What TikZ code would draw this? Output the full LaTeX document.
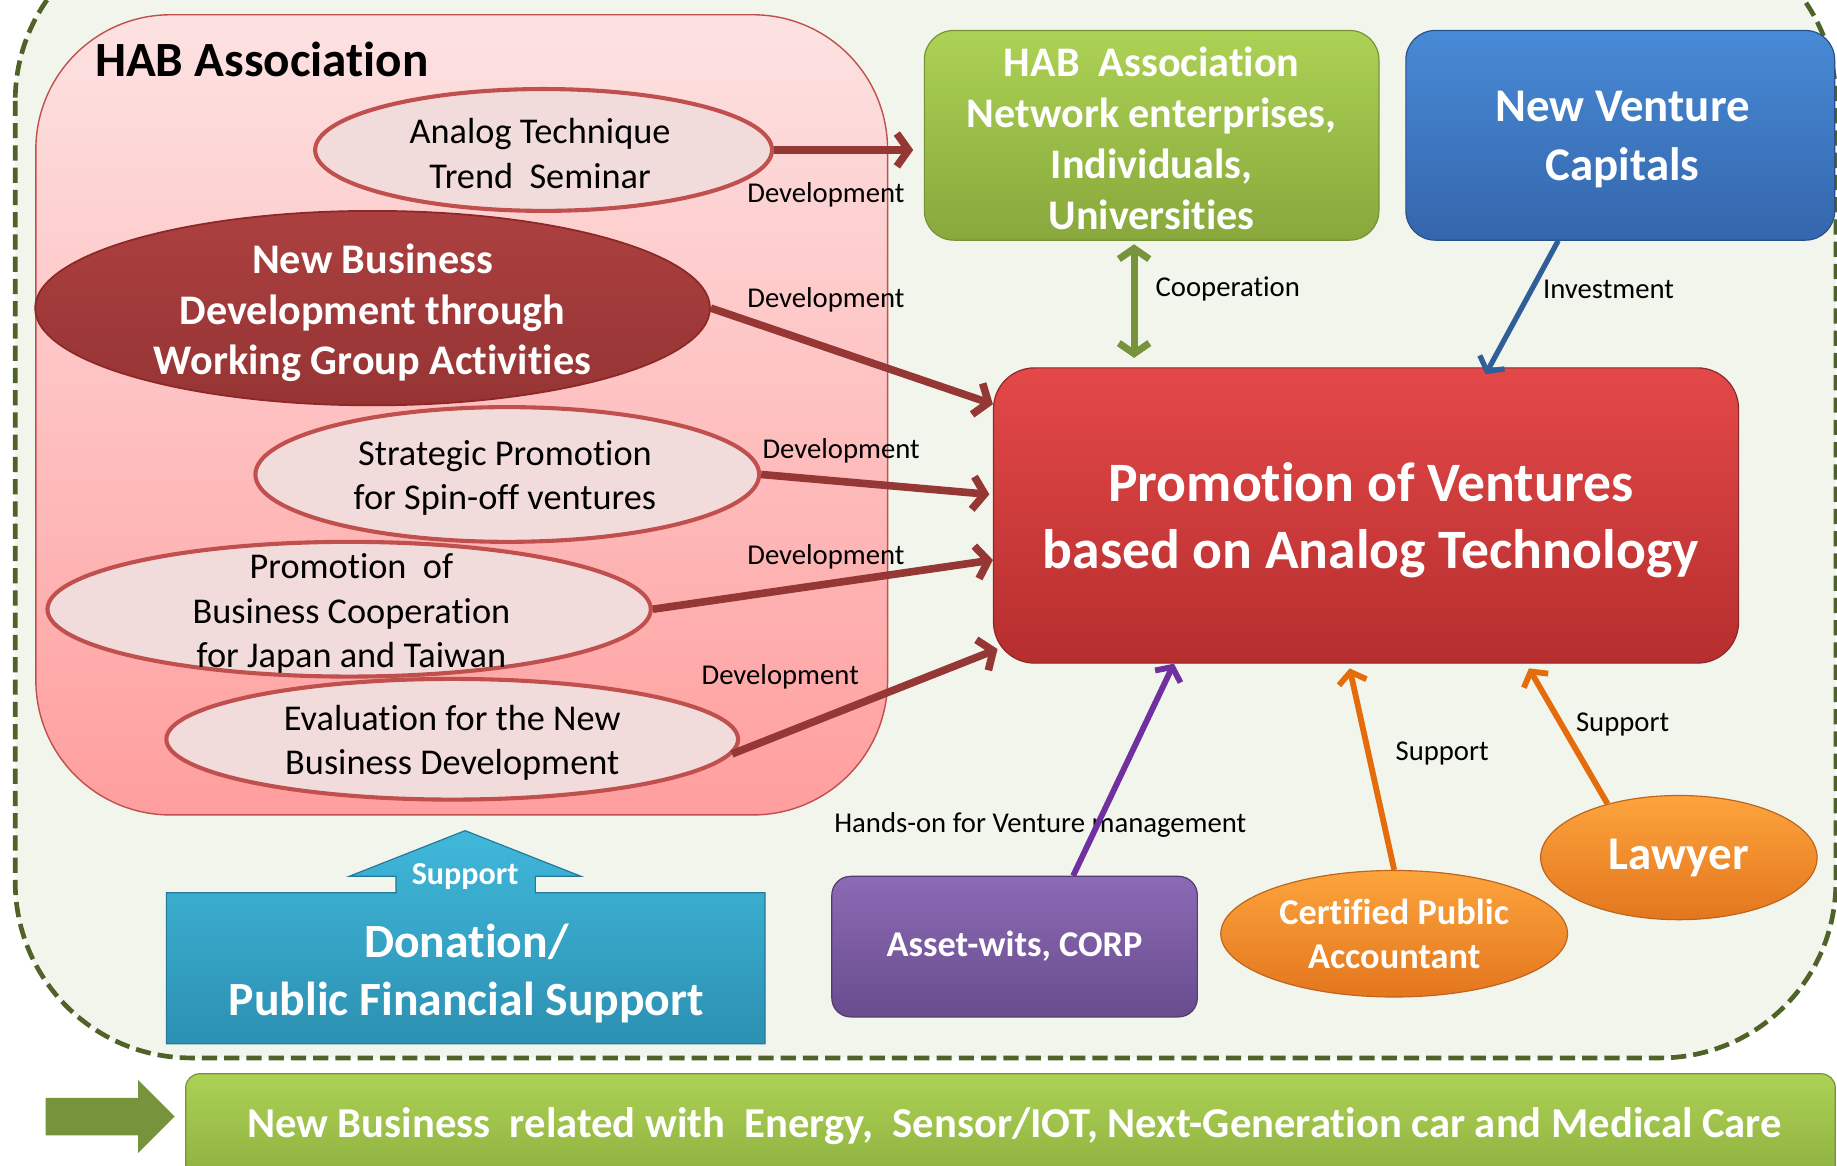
\documentclass[tikz,border=0pt]{standalone}
\usepackage{fontspec}
\setmainfont{Carlito}[Ligatures=NoCommon]
\usetikzlibrary{shapes.geometric,arrows.meta,calc}
\definecolor{bgc}{RGB}{242,245,236}
\definecolor{dashc}{RGB}{79,98,40}
\definecolor{habtop}{RGB}{253,226,226}
\definecolor{habbot}{RGB}{255,158,158}
\definecolor{habb}{RGB}{192,80,77}
\definecolor{lellf}{RGB}{242,220,219}
\definecolor{dellt}{RGB}{172,64,64}
\definecolor{dellb}{RGB}{150,52,52}
\definecolor{devc}{RGB}{149,55,53}
\definecolor{grt}{RGB}{172,210,84}
\definecolor{grb}{RGB}{136,168,60}
\definecolor{grd}{RGB}{118,146,54}
\definecolor{blt}{RGB}{72,138,214}
\definecolor{blb}{RGB}{52,102,172}
\definecolor{bld}{RGB}{40,80,140}
\definecolor{rdt}{RGB}{228,72,72}
\definecolor{rdb}{RGB}{182,46,46}
\definecolor{rdd}{RGB}{140,40,40}
\definecolor{put}{RGB}{140,106,180}
\definecolor{pub}{RGB}{104,76,142}
\definecolor{pud}{RGB}{80,60,112}
\definecolor{ort}{RGB}{252,164,60}
\definecolor{orb}{RGB}{228,118,30}
\definecolor{ord}{RGB}{190,100,30}
\definecolor{cyt}{RGB}{64,184,218}
\definecolor{cyb}{RGB}{44,144,178}
\definecolor{cyd}{RGB}{36,120,152}
\definecolor{olive}{RGB}{119,147,60}
\definecolor{invc}{RGB}{47,94,152}
\definecolor{purc}{RGB}{112,48,160}
\definecolor{orc}{RGB}{228,108,10}
\begin{document}
\begin{tikzpicture}[x=1pt,y=-1pt,
  lbl/.style={font=\fontsize{24.5}{29}\selectfont, inner sep=0pt, text=black},
  lell/.style={ellipse, draw=habb, line width=3.5pt, fill=lellf, inner sep=0pt},
  etxt/.style={align=center, inner sep=0pt, font=\fontsize{31}{38}\selectfont, text=black},
  wtxt/.style={align=center, text=white, font=\bfseries\fontsize{36}{43.5}\selectfont, inner sep=0pt},
  greenbox/.style={rectangle, rounded corners=25, top color=grt, bottom color=grb, draw=grd, line width=1pt},
  dev/.style={draw=devc, line width=6.5pt, -{Straight Barb[length=10pt,width=28pt]}},
  tip/.style={-{Straight Barb[length=9pt,width=24pt]}},
]
\useasboundingbox (0,0) rectangle (1568,995);
\fill[white] (0,0) rectangle (1568,995);
\begin{scope}
\clip (0,0) rectangle (1568,995);
% outer dashed area
\draw[fill=bgc, draw=dashc, line width=4pt, dash pattern=on 13pt off 6pt, rounded corners=150]
  (13,-64) rectangle (1567,903);
% HAB association box
\node[rectangle, rounded corners=115, top color=habtop, bottom color=habbot, draw=habb, line width=1.2pt,
  minimum width=727, minimum height=683, anchor=north west, inner sep=0pt] (hab) at (30,12) {};
\node[font=\bfseries\fontsize{42}{50}\selectfont, anchor=west, inner sep=0pt] (habtitle) at (81,51) {HAB Association};
% ellipses
\node[lell, minimum width=390, minimum height=104] (e1) at (464,128) {};
\node[etxt] (e1t) at (461,131) {Analog Technique\\ Trend\ \ Seminar};
\node[ellipse, top color=dellt, bottom color=dellb, draw=rdd, line width=1.5pt, inner sep=0pt,
  minimum width=576, minimum height=166] (e2) at (318,263) {};
\node[wtxt] (e2t) at (318,267) {New Business\\ Development through\\ Working Group Activities};
\node[lell, minimum width=430, minimum height=115] (e3) at (433,405) {};
\node[etxt] (e3t) at (431,408) {Strategic Promotion\\ for Spin-off ventures};
\node[lell, minimum width=515, minimum height=115] (e4) at (298,520) {};
\node[lell, minimum width=488, minimum height=103] (e5) at (386,631) {};
\node[etxt] (e4t) at (300,524) {Promotion\ \ of\\ Business Cooperation\\ for Japan and Taiwan};
\node[etxt] (e5t) at (386,634) {Evaluation for the New\\ Business Development};
% right boxes
\node[greenbox, minimum width=388, minimum height=179, inner sep=0pt] (green) at (983,115.5) {};
\node[wtxt] (greent) at (983,118) {HAB\ \ Association\\ Network enterprises,\\ Individuals,\\ Universities};
\node[rectangle, rounded corners=25, top color=blt, bottom color=blb, draw=bld, line width=1pt,
  minimum width=366, minimum height=179, inner sep=0pt] (blue) at (1383,115.5) {};
\node[wtxt, font=\bfseries\fontsize{40}{50}\selectfont] (bluet) at (1385,119) {New Venture\\ Capitals};
\node[rectangle, rounded corners=35, top color=rdt, bottom color=rdb, draw=rdd, line width=1pt,
  minimum width=636, minimum height=252, inner sep=0pt] (red) at (1166,440) {};
\node[wtxt, font=\bfseries\fontsize{47.5}{57}\selectfont] (redt) at (1170,444) {Promotion of Ventures\\ based on Analog Technology};
\node[rectangle, rounded corners=16, top color=put, bottom color=pub, draw=pud, line width=1pt,
  minimum width=312, minimum height=120, inner sep=0pt, text=white,
  font=\bfseries\fontsize{31}{38}\selectfont] (purple) at (866,808) {Asset-wits, CORP};
\node[ellipse, top color=ort, bottom color=orb, draw=ord, line width=1pt, minimum width=296,
  minimum height=108, inner sep=0pt, align=center, text=white,
  font=\bfseries\fontsize{31}{38}\selectfont] (cpa) at (1190,797) {Certified Public\\ Accountant};
\node[ellipse, top color=ort, bottom color=orb, draw=ord, line width=1pt, minimum width=236,
  minimum height=106, inner sep=0pt, text=white,
  font=\bfseries\fontsize{40}{48}\selectfont] (lawyer) at (1433,732) {Lawyer};
% donation box with up arrow
\draw[top color=cyt, bottom color=cyb, draw=cyd, line width=1pt]
  (142,762) -- (338,762) -- (338,748) -- (298,748) -- (397,709) -- (496,748) -- (457,748)
  -- (457,762) -- (653,762) -- (653,891) -- (142,891) -- cycle;
\node[text=white, font=\bfseries\fontsize{27.4}{33}\selectfont, inner sep=0pt] (supp) at (397,748) {Support};
\node[wtxt, font=\bfseries\fontsize{40.7}{50}\selectfont] (don) at (398,831) {Donation/\\ Public Financial Support};
% bottom band
\node[greenbox, rounded corners=12, anchor=north west, minimum width=1408, minimum height=110, inner sep=0pt] (band) at (158,916) {};
\node[text=white, font=\bfseries\fontsize{36.4}{42}\selectfont, inner sep=0pt] (bandt) at (866,961)
  {New Business\ \ related with\ \ Energy,\ \ Sensor/IOT, Next-Generation car and Medical Care};
\fill[olive] (39,937) -- (118,937) -- (118,922) -- (149,953) -- (118,984) -- (118,969) -- (39,969) -- cycle;
% labels
\node[lbl] (l1) at (705,166) {Development};
\node[lbl] (l2) at (705,256) {Development};
\node[lbl] (l3) at (718,385) {Development};
\node[lbl] (l4) at (705,475) {Development};
\node[lbl] (l5) at (666,578) {Development};
\node[lbl] (l6) at (1048,247) {Cooperation};
\node[lbl] (l7) at (1373,247) {Investment};
\node[lbl] (l8) at (888,704) {Hands-on for Venture management};
\node[lbl] (l9) at (1231,643) {Support};
\node[lbl] (l10) at (1385,618) {Support};
% connectors
\draw[dev] (e1.east) -- ($(green.west |- e1.east)+(-9,0)$);
\draw[dev] (e2.east) -- (red.west |- 0,345);
\draw[dev] (e3.east) -- ($(red.west |- 0,422)+(-3,0)$);
\draw[dev] (e4.east) -- (red.west |- 0,478);
\draw[dev] (e5.-3) -- ($(red.west |- 0,554)+(4,0)$);
\draw[draw=olive, line width=6pt, {Straight Barb[length=9pt,width=26pt]}-{Straight Barb[length=9pt,width=26pt]}]
  ($(green.south -| 968,0)+(0,3)$) -- ($(red.north -| 968,0)+(0,-8)$);
\draw[draw=invc, line width=4.5pt, tip]
  (blue.south -| 1330,0) -- ($(red.north -| 1268,0)+(0,6)$);
\draw[draw=purc, line width=5pt, tip]
  (purple.north -| 916,0) -- (red.south -| 1002,0);
\draw[draw=orc, line width=5pt, tip]
  (cpa.north) -- ($(red.south -| 1152,0)+(0,4)$);
\draw[draw=orc, line width=5pt, tip]
  (lawyer.143) -- ($(red.south -| 1305,0)+(0,4)$);
\end{scope}
\end{tikzpicture}
\end{document}
